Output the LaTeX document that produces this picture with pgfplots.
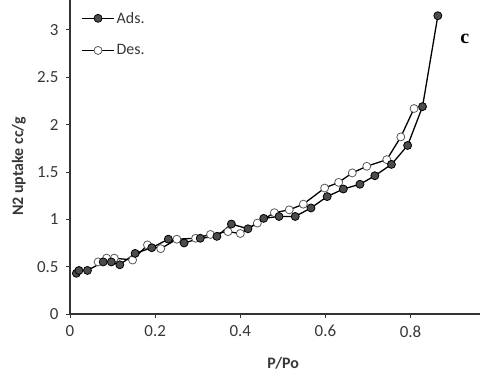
\documentclass[border=0pt]{standalone}
\usepackage{fontspec}
\setmainfont{Carlito}
\newfontfamily\serifbold{Liberation Serif}
\usepackage{pgfplots}
\pgfplotsset{compat=1.18}
\definecolor{txt}{RGB}{55,55,55}

\begin{document}
\begin{tikzpicture}
\begin{axis}[
    scale only axis,
    width=410bp, height=314bp,
    xmin=0, xmax=0.963, ymin=0, ymax=3.316,
    axis lines=left,
    axis line style={-, black!80, line width=1.2bp},
    xtick={0,0.2,0.4,0.6,0.8},
    ytick={0,0.5,1,1.5,2,2.5,3},
    tick align=outside,
    major tick length=4bp,
    tick style={black!80, line width=0.9bp},
    tick label style={font=\fontsize{17}{19}\selectfont, text=txt},
    /pgf/number format/assume math mode=true,
    xticklabel style={yshift=-4bp},
    yticklabel style={xshift=-4bp},
    legend style={draw=none, fill=none, at={(rel axis cs:0.02,0.975)},
        anchor=north west, font=\fontsize{16}{18}\selectfont, text=txt,
        row sep=16bp},
    legend cell align=left,
    reverse legend,
    legend image code/.code={
        \draw[mark repeat=2, mark phase=2]
            plot coordinates {(0bp,0bp) (16bp,0bp) (32bp,0bp)};},
    clip=false,
]
% desorption branch (open circles)
\addplot[black, line width=1.3bp, mark=*, mark size=4bp,
    mark options={fill=white, draw=black!65, line width=0.8bp}]
    coordinates {
    (0.066,0.55) (0.086,0.59) (0.104,0.59) (0.147,0.57) (0.182,0.73)
    (0.213,0.69) (0.251,0.79) (0.295,0.80) (0.330,0.84) (0.371,0.87)
    (0.400,0.85) (0.440,0.96) (0.480,1.07) (0.515,1.10) (0.548,1.16)
    (0.598,1.33) (0.631,1.39) (0.663,1.49) (0.697,1.56) (0.744,1.63)
    (0.777,1.87) (0.808,2.17)
    };
\addlegendentry{Des.}
% adsorption branch (filled circles)
\addplot[black, line width=1.3bp, mark=*, mark size=4bp,
    mark options={fill=black!70, draw=black, line width=0.8bp}]
    coordinates {
    (0.015,0.43) (0.021,0.46) (0.041,0.46) (0.078,0.55) (0.097,0.55)
    (0.117,0.52) (0.153,0.64) (0.192,0.70) (0.231,0.79) (0.268,0.75)
    (0.306,0.80) (0.345,0.82) (0.379,0.95) (0.418,0.90) (0.455,1.01)
    (0.491,1.03) (0.529,1.03) (0.566,1.12) (0.604,1.24) (0.642,1.32)
    (0.681,1.37) (0.716,1.46) (0.755,1.58) (0.793,1.78) (0.828,2.19)
    (0.864,3.15)
    };
\addlegendentry{Ads.}
\node[font=\serifbold\bfseries\fontsize{20}{22}\selectfont, anchor=center]
    at (rel axis cs:0.963,0.876) {c};
% axis titles
\node[font=\bfseries\fontsize{16}{18}\selectfont, text=txt, anchor=center]
    at ([yshift=-49bp]rel axis cs:0.52,0) {P/Po};
\node[font=\bfseries\fontsize{16}{18}\selectfont, text=txt, anchor=center, rotate=90]
    at ([xshift=-51bp]rel axis cs:0,0.47) {N2 uptake cc/g};
\end{axis}
\pgfresetboundingbox
\path[use as bounding box]
    ([shift={(-70bp,-67bp)}]current axis.south west) rectangle (current axis.north east);
\end{tikzpicture}
\end{document}
